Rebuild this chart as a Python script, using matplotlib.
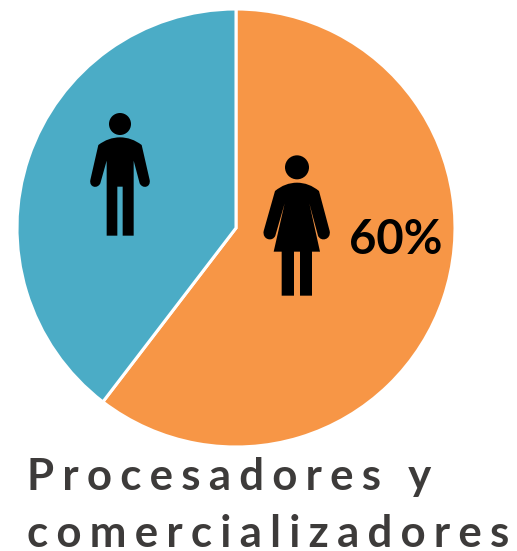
import matplotlib
matplotlib.use("Agg")
import matplotlib.pyplot as plt
from matplotlib.patches import Circle, PathPatch
from matplotlib.path import Path

# valeurs du camembert
categories = ["Mujeres", "Hombres"]
valeurs = [60.4, 39.6]
couleurs = ["#F79646", "#4BACC6"]
etiquette = "60%"
titre_lignes = ["Procesadores y", "comercializadores"]

W, H = 517, 551
THIN = "\u2009"
HAIR = "\u200a"


def espacer(txt):
    # faux interlettrage
    return (THIN + HAIR).join(txt)


def silhouette(ax, ox, oy, tete, segments):
    cx, cy, r = tete
    ax.add_patch(Circle((ox + cx / 3, oy + cy / 3), r / 3, color="black", lw=0))
    verts = []
    codes = []
    for code, pts in segments:
        for p in pts:
            verts.append((ox + p[0] / 3, oy + p[1] / 3))
            codes.append(code)
    verts.append(verts[0])
    codes.append(Path.CLOSEPOLY)
    ax.add_patch(PathPatch(Path(verts, codes), facecolor="black", lw=0))


L, C3, C4 = Path.LINETO, Path.CURVE3, Path.CURVE4

homme = [
    (Path.MOVETO, [(85, 135)]),
    (C3, [(115, 112), (150, 112)]),
    (C3, [(185, 112), (215, 135)]),
    (L, [(239, 240)]),
    (C4, [(243, 262), (218, 268), (209, 250)]),
    (L, [(191, 182), (191, 407), (158, 407), (158, 260), (142, 260), (142, 407), (110, 407), (110, 182), (91, 250)]),
    (C4, [(82, 268), (57, 262), (61, 240)]),
]

femme = [
    (Path.MOVETO, [(75, 138)]),
    (C3, [(105, 113), (141, 113)]),
    (C3, [(177, 113), (207, 138)]),
    (L, [(239, 258)]),
    (C4, [(244, 284), (212, 292), (204, 272)]),
    (L, [(178, 175), (210, 320), (186, 320), (186, 452), (150, 452), (150, 320), (132, 320), (132, 452), (95, 452), (95, 320), (71, 320), (104, 175), (76, 272)]),
    (C4, [(68, 292), (36, 284), (41, 258)]),
]

fig = plt.figure(figsize=(W / 100, H / 100), dpi=100, facecolor="white")

# le camembert : centre (236, 228), rayon 219 px (le trait blanc mange 1 px)
ax = fig.add_axes([(236 - 219) / W, 1 - (228 + 219) / H, 2 * 219 / W, 2 * 219 / H])
ax.pie(valeurs, colors=couleurs, startangle=90, counterclock=False, radius=1,
       wedgeprops={"edgecolor": "white", "linewidth": 2.2})
ax.set_xlim(-1, 1)
ax.set_ylim(-1, 1)

# calque en pixels pour les icones et le texte
over = fig.add_axes([0, 0, 1, 1])
over.set_xlim(0, W)
over.set_ylim(H, 0)
over.axis("off")

silhouette(over, 70, 100, (150, 72, 33), homme)
silhouette(over, 250, 145, (141, 67, 36), femme)

over.text(349, 254, etiquette, family="Lato", weight="bold", fontsize=34, color="black", va="baseline")

over.text(27, 490, espacer(titre_lignes[0]), family=["Lato", "DejaVu Sans"], weight="bold",
          fontsize=31.5, color="#3D3B3A", va="baseline")
over.text(27, 547, espacer(titre_lignes[1]), family=["Lato", "DejaVu Sans"], weight="bold",
          fontsize=31.5, color="#3D3B3A", va="baseline")

fig.savefig("out.png", dpi=100)
